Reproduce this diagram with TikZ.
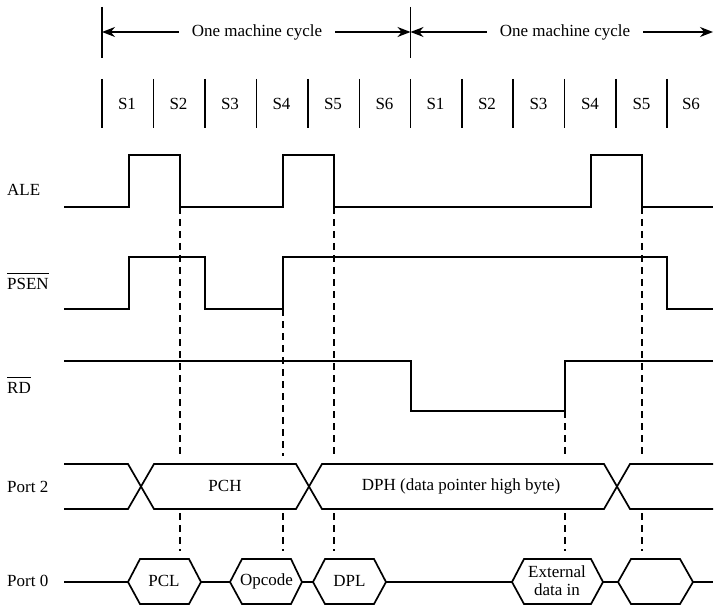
\documentclass[tikz,border=0pt]{standalone}
\usepackage{fontspec}
\setmainfont{Liberation Serif}
\usetikzlibrary{arrows.meta}
\begin{document}
\begin{tikzpicture}[x=1pt,y=-1pt,
  sig/.style={line width=1.7pt, line join=miter},
  tickline/.style={line width=1.9pt},
  guide/.style={line width=1.1pt, dash pattern=on 7pt off 5pt},
  arr/.style={line width=1.3pt, -{Stealth[length=13pt,width=10pt]}},
  txt/.style={font=\fontsize{17}{19}\selectfont, inner sep=0pt},
  bar/.style={line width=1.1pt},
  title/.style={txt, inner xsep=13pt}]
\useasboundingbox (0,0) rectangle (714,609);

% --- machine cycle markers
\coordinate (m0) at (102,32);
\coordinate (m1) at (410.5,32);
\coordinate (m2) at (713,32);
\draw[tickline] (102,7) -- (102,58);
\draw[tickline] (410.5,7) -- (410.5,58);
\node[title] (t1) at (257,32) {One machine cycle};
\node[title] (t2) at (565,32) {One machine cycle};
\draw[arr] (t1.west) -- (m0);
\draw[arr] (t1.east) -- (m1);
\draw[arr] (t2.west) -- (m1);
\draw[arr] (t2.east) -- (m2);

% --- state ticks and labels
\foreach \x in {102,153.5,205,256.5,308,359.5,410.5,461.8,513,564.5,616,667}
  \draw[tickline] (\x,79) -- (\x,128);
\foreach \x/\s/\n in {127/S1/sa,178.5/S2/sb,230/S3/sc,281.5/S4/sd,333/S5/se,384.5/S6/sf,
                      435.5/S1/sg,487/S2/sh,538.5/S3/si,590/S4/sj,641.5/S5/sk,691/S6/sl}
  \node[txt] (\n) at (\x,104) {\s};

% --- signal labels
\node[txt,anchor=west] (lale) at (7,190) {ALE};
\node[txt,anchor=west] (lpsen) at (7,284) {PSEN};
\node[txt,anchor=west] (lrd) at (7,388) {RD};
\draw[bar] ([yshift=5pt]lpsen.north west) -- ([yshift=5pt]lpsen.north east);
\draw[bar] ([yshift=5pt]lrd.north west) -- ([yshift=5pt]lrd.north east);
\node[txt,anchor=west] (lp2) at (7,487) {Port 2};
\node[txt,anchor=west] (lp0) at (7,581) {Port 0};

% --- ALE
\draw[sig] (64,207) -- (129,207) -- (129,155) -- (180,155) -- (180,207)
  -- (283,207) -- (283,155) -- (334,155) -- (334,207)
  -- (591,207) -- (591,155) -- (642,155) -- (642,207) -- (713,207);
% --- PSEN
\draw[sig] (64,309) -- (129,309) -- (129,257) -- (205,257) -- (205,309)
  -- (283,309) -- (283,257) -- (667,257) -- (667,309) -- (713,309);
% --- RD
\draw[sig] (64,361) -- (411,361) -- (411,411) -- (565,411) -- (565,361) -- (713,361);

% --- Port 2
\draw[sig] (64,464) -- (128,464) -- (154,509) -- (296,509) -- (322,464) -- (604,464) -- (630,509) -- (713,509);
\draw[sig] (64,509) -- (128,509) -- (154,464) -- (296,464) -- (322,509) -- (604,509) -- (630,464) -- (713,464);
\node[txt] (pch) at (225,486) {PCH};
\node[txt] (dph) at (461,486) {DPH (data pointer high byte)};

% --- Port 0
\foreach \a/\b/\c/\d in {128/140/189/201, 230/242/291/302, 313/325/374/386, 512/524/591/603, 618/631/680/693}
  \draw[sig] (\a,582) -- (\b,559) -- (\c,559) -- (\d,582) -- (\c,604) -- (\b,604) -- cycle;
\draw[sig] (64,582) -- (128,582);
\draw[sig] (201,582) -- (230,582);
\draw[sig] (302,582) -- (313,582);
\draw[sig] (386,582) -- (512,582);
\draw[sig] (603,582) -- (618,582);
\draw[sig] (693,582) -- (713,582);
\node[txt] (pcl) at (164,581) {PCL};
\node[txt] (opc) at (266.5,581) {Opcode};
\node[txt] (dpl) at (349.5,581) {DPL};
\node[txt,align=center,font=\fontsize{17}{18}\selectfont] (ext) at (557,581) {External\\data in};

% --- guide lines
\foreach \x/\y in {180/207, 283/309, 334/207, 565/411, 642/207} {
  \draw[guide] (\x,\y) -- (\x,456);
  \draw[guide] (\x,513) -- (\x,551);
}
\end{tikzpicture}
\end{document}
